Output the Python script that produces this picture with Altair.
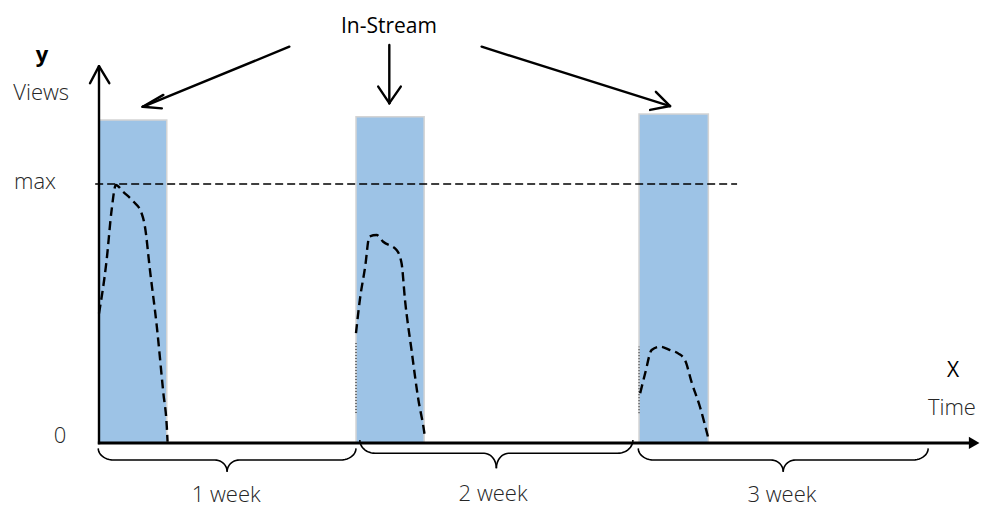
import altair as alt
import pandas as pd
import numpy as np

# ---------------- data (x in days, y in views; max = 100) ----------------
bar_start = [0.0, 6.71, 14.10]
bar_end = [1.77, 8.49, 15.91]
bar_top = [124.7, 126.0, 127.0]

curve1_x = [0.00, 0.20, 0.33, 0.44, 0.63, 0.90, 1.11, 1.20, 1.33, 1.51, 1.68, 1.77, 1.79]
curve1_y = [50.0, 70.7, 90.0, 99.6, 97.0, 93.2, 88.8, 83.5, 66.8, 44.9, 19.3, 6.3, 0.5]
curve2_x = [6.71, 6.81, 6.95, 7.06, 7.25, 7.42, 7.77, 7.90, 7.99, 8.16, 8.34, 8.47, 8.51]
curve2_y = [42.4, 55.2, 68.1, 79.7, 80.3, 77.7, 74.5, 69.4, 55.2, 35.9, 16.6, 6.3, 2.4]
curve3_x = [14.13, 14.26, 14.43, 14.65, 14.91, 15.12, 15.30, 15.48, 15.69, 15.91]
curve3_y = [19.2, 26.9, 35.9, 37.2, 35.9, 34.6, 32.0, 23.1, 14.0, 1.8]

max_value = 100.0
max_line_x = [-0.10, 16.66]

# dotted starts of campaigns 2 and 3
dotted_x = [6.71, 14.10]
dotted_y0 = [11.6, 11.5]
dotted_y1 = [38.6, 37.2]

# "In-Stream" arrows: start -> tip, two arm ends
arrow_x0 = [4.97, 7.58, 9.99]
arrow_y0 = [153.0, 153.7, 153.0]
arrow_x1 = [1.14, 7.58, 14.91]
arrow_y1 = [129.8, 131.2, 130.1]
arm_a_x = [1.68, 7.29, 14.54]
arm_a_y = [134.4, 137.6, 135.6]
arm_b_x = [1.64, 7.88, 14.39]
arm_b_y = [129.2, 137.6, 128.6]

# week braces
brace_start = [-0.02, 6.81, 14.08]
brace_end = [6.71, 13.94, 21.65]
brace_top = [-2.05, 1.16, -2.05]
brace_flat = [-6.56, -3.98, -6.56]
brace_tip = [-11.08, -9.77, -11.08]

week_labels = ["1 week", "2 week", "3 week"]
week_label_x = [3.32, 10.29, 17.83]
week_label_y = [-22.9, -22.5, -22.9]

# axis geometry
y_axis_top = 145.5
x_axis_end = 22.80
y_chev_x = [-0.235, 0.269]
y_chev_y = [138.9, 138.9]

# ---------------- scales ----------------
XS = alt.Scale(domain=[-2.376, 23.055], nice=False, zero=False)
YS = alt.Scale(domain=[-25.097, 167.95], nice=False, zero=False)


def X(f="x"):
    return alt.X(f"{f}:Q", scale=XS, axis=None)


def Y(f="y"):
    return alt.Y(f"{f}:Q", scale=YS, axis=None)


# bars
bars_df = pd.DataFrame({"x": bar_start, "x2": bar_end, "y": [0.0] * 3, "y2": bar_top})
bars = alt.Chart(bars_df).mark_rect(fill="#9DC3E6", stroke="#D4D4D4", strokeWidth=1.5).encode(
    x=X(), x2="x2:Q", y=Y(), y2="y2:Q")

# curves
rows = []
for cid, (xs, ys) in enumerate([(curve1_x, curve1_y), (curve2_x, curve2_y), (curve3_x, curve3_y)]):
    for i, (a, b) in enumerate(zip(xs, ys)):
        rows.append({"x": a, "y": b, "c": cid, "i": i})
curves_df = pd.DataFrame(rows)
curves = alt.Chart(curves_df).mark_line(
    color="black", strokeWidth=2.4, strokeDash=[9, 5], interpolate="monotone").encode(
    x=X(), y=Y(), detail="c:N", order="i:Q")

# max line
max_df = pd.DataFrame({"x": [max_line_x[0]], "x2": [max_line_x[1]], "y": [max_value]})
max_line = alt.Chart(max_df).mark_rule(color="black", strokeWidth=1.6, strokeDash=[8, 4]).encode(
    x=X(), x2="x2:Q", y=Y())

# dotted campaign starts
dot_df = pd.DataFrame({"x": dotted_x, "y": dotted_y0, "y2": dotted_y1})
dotted = alt.Chart(dot_df).mark_rule(color="black", strokeWidth=1, strokeDash=[1, 2]).encode(
    x=X(), y=Y(), y2="y2:Q")

# arrows
seg = []
for i in range(3):
    seg.append({"x": arrow_x0[i], "y": arrow_y0[i], "x2": arrow_x1[i], "y2": arrow_y1[i]})
    seg.append({"x": arm_a_x[i], "y": arm_a_y[i], "x2": arrow_x1[i], "y2": arrow_y1[i]})
    seg.append({"x": arm_b_x[i], "y": arm_b_y[i], "x2": arrow_x1[i], "y2": arrow_y1[i]})
# y axis chevron
for cx, cy in zip(y_chev_x, y_chev_y):
    seg.append({"x": cx, "y": cy, "x2": 0.0, "y2": y_axis_top})
arrows = alt.Chart(pd.DataFrame(seg)).mark_rule(color="black", strokeWidth=2.4, strokeCap="round").encode(
    x=X(), y=Y(), x2="x2:Q", y2="y2:Q")

# axes
ax_df = pd.DataFrame([
    {"x": 0.0, "y": -0.5, "x2": 0.0, "y2": y_axis_top, "w": 2.4},
    {"x": -0.03, "y": 0.0, "x2": x_axis_end, "y2": 0.0, "w": 3.0},
])
axes = alt.Chart(ax_df).mark_rule(color="black").encode(
    x=X(), y=Y(), x2="x2:Q", y2="y2:Q", strokeWidth=alt.StrokeWidth("w:Q", scale=None))
tri = alt.Chart(pd.DataFrame({"x": [x_axis_end + 0.05], "y": [0.0]})).mark_point(
    shape="triangle-right", filled=True, color="black", size=150, opacity=1).encode(x=X(), y=Y())

# braces
brows = []
phis = np.linspace(0, np.pi / 2, 12)
r1, r2 = 0.40, 0.32
for k in range(3):
    a, b = brace_start[k], brace_end[k]
    t, f, p = brace_top[k], brace_flat[k], brace_tip[k]
    m = (a + b) / 2
    half = []
    for ph in phis:
        half.append((a + r1 - r1 * np.cos(ph), t - (t - f) * np.sin(ph)))
    for ph in phis:
        half.append((m - r2 + r2 * np.sin(ph), p + (f - p) * np.cos(ph)))
    for i, (hx, hy) in enumerate(half):
        brows.append({"x": hx, "y": hy, "s": f"{k}L", "i": i})
        brows.append({"x": a + b - hx, "y": hy, "s": f"{k}R", "i": i})
braces = alt.Chart(pd.DataFrame(brows)).mark_line(color="black", strokeWidth=1.6).encode(
    x=X(), y=Y(), detail="s:N", order="i:Q")

# texts
FONT = "Open Sans"
GREY = "#262626"
light_df = pd.DataFrame({
    "x": [-1.51, -2.22, -1.02, 22.27],
    "y": [132.4, 98.1, 0.0, 10.8],
    "t": ["Views", "max", "0", "Time"],
    "a": ["c", "l", "c", "c"],
})
light_c = alt.Chart(light_df[light_df.a == "c"]).mark_text(
    font=FONT, fontSize=22, color=GREY, align="center", baseline="alphabetic", fontWeight=300).encode(
    x=X(), y=Y(), text="t:N")
light_l = alt.Chart(light_df[light_df.a == "l"]).mark_text(
    font=FONT, fontSize=22, color=GREY, align="left", baseline="alphabetic", fontWeight=300).encode(
    x=X(), y=Y(), text="t:N")
weeks = alt.Chart(pd.DataFrame({"x": week_label_x, "y": week_label_y, "t": week_labels})).mark_text(
    font=FONT, fontSize=22, color=GREY, align="center", baseline="alphabetic", fontWeight=300).encode(
    x=X(), y=Y(), text="t:N")
heads = alt.Chart(pd.DataFrame({"x": [7.57, 22.30], "y": [158.3, 25.5], "t": ["In-Stream", "X"]})).mark_text(
    font=FONT, fontSize=21, color="black", align="center", baseline="alphabetic").encode(
    x=X(), y=Y(), text="t:N")
ylab = alt.Chart(pd.DataFrame({"x": [-1.49], "y": [147.1], "t": ["y"]})).mark_text(
    font=FONT, fontSize=22, color="black", align="center", baseline="alphabetic", fontWeight="bold").encode(
    x=X(), y=Y(), text="t:N")

chart = alt.layer(
    bars, max_line, curves, dotted, axes, tri, arrows, braces,
    light_c, light_l, weeks, heads, ylab
).properties(
    width=974, height=500, padding=0, autosize=alt.AutoSizeParams(type="none")
).configure_view(stroke=None)

chart.save("out.html", embed_options={"renderer": "svg", "actions": False})
